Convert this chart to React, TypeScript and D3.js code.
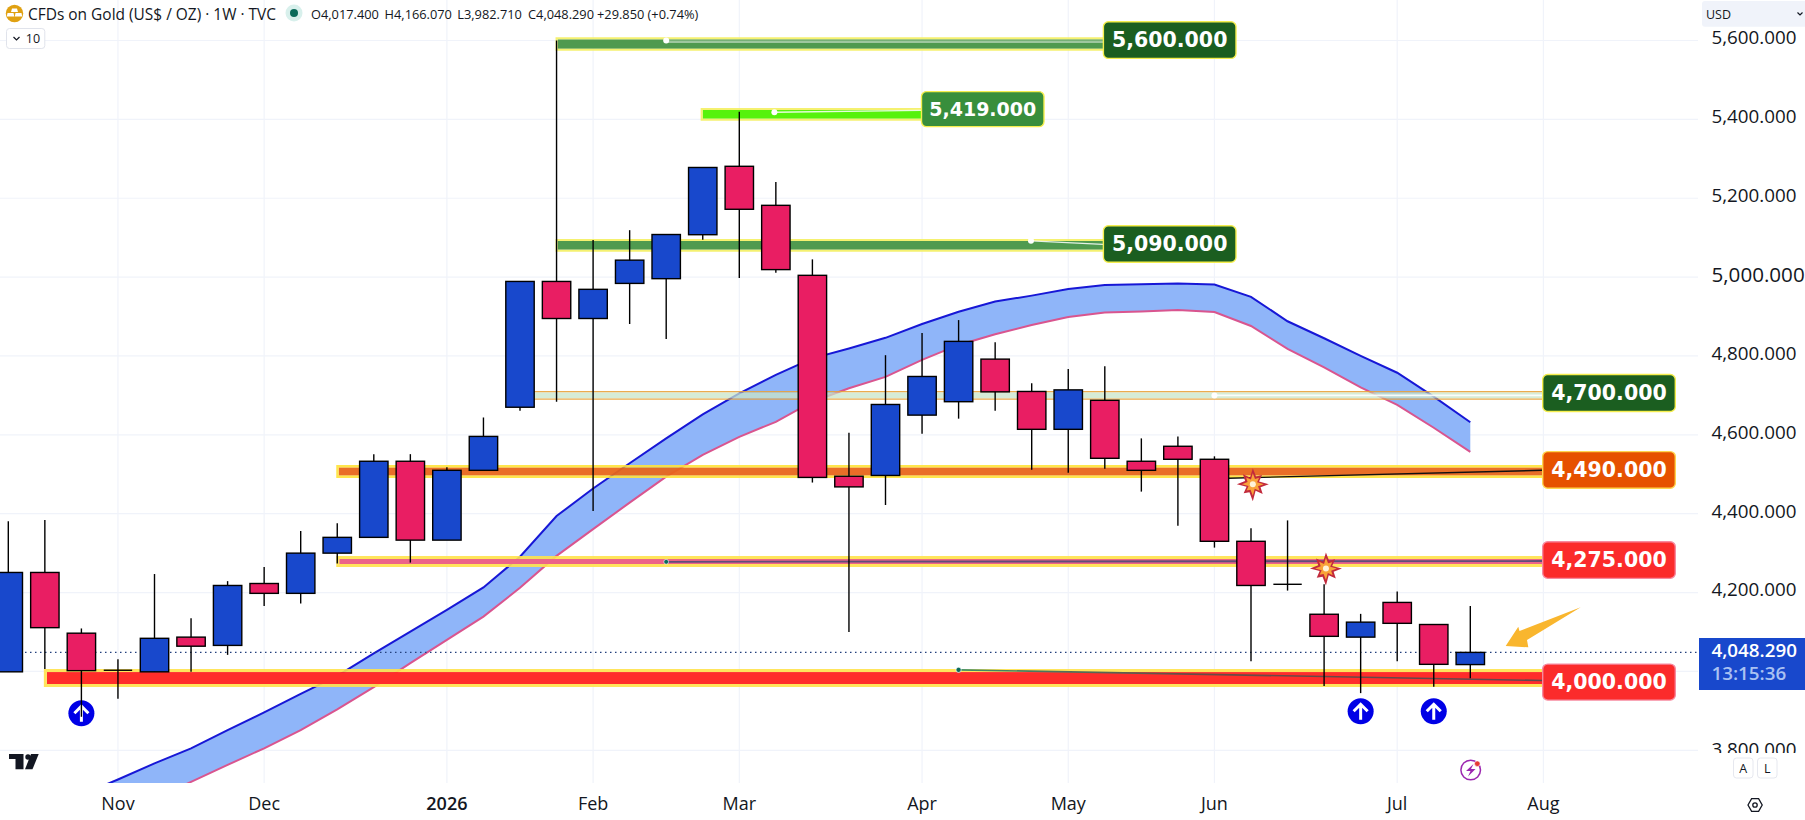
import React from "react";
import * as d3 from "d3";

const W = 1805, H = 820, PANE_R = 1698, PANE_B = 783;

// Weekly candles, index 0 = week of 13 Oct 2025
const opens = [3999,4251,4097,4003,3999,4087,4066,4223,4198,4300,4340,4533,4333,4510,4670,4989,4895,4984,4996,5107.5,5281,5182,5004.5,4495,4497,4650,4684,4792,4710,4614,4687.5,4533,4571,4538,4330,4221,4145,4087,4175,4119,4017.4];
const highs = [4381,4384,4109,4031,4247,4135,4229,4265,4356,4376,4551,4551,4518,4644,4989,5600,5094,5119,5108,5278,5419,5241,5045,4605,4802,4858,4891,4835,4731,4767,4774,4591,4596,4545.5,4363,4383,4221,4146,4203,4119,4166.07];
const lows = [3999,4006,3885,3931,3999,3999,4042,4166,4172,4274,4340,4276,4333,4510,4661,4684,4407,4881,4843,5095,4998,5011,4479,4100,4422,4603,4641,4661,4511.5,4504,4514,4456,4369.5,4314,4026,4205,3963,3945,4026,3961,3982.71];
const closes = [4251,4111,4002,4003,4084,4064,4218,4198,4300,4340,4533,4333,4510,4596,4989,4895,4969,5043,5108,5278,5172,5019,4492,4468,4677,4748,4837,4709,4614,4714,4540.5,4510,4538,4330,4218,4221,4089,4125,4122,4018,4048.29];

// Ribbon, first defined index given by the offset
const upperStart = 2;
const upperBand = [3687,3726,3767,3805,3851,3896,3943,3989,4046,4101,4156,4213,4291,4394,4464,4528,4591,4652,4705,4752,4794,4819,4846,4881,4912,4938,4953,4970,4980,4982,4984,4981,4950,4888,4845,4800,4757.5,4697,4632];
const lowerBand = [null,3636,3676,3720,3763,3805,3851,3904,3960,4021,4080,4139,4212,4293,4361,4428,4494,4549,4595,4633,4684,4718,4747,4790,4828,4855,4878.5,4899,4910,4913,4916.5,4911.5,4876,4818,4771,4720.5,4676,4618,4557];

const yTicks = [5600,5400,5200,5000,4800,4600,4400,4200,3800];
const yGrid = [5600,5400,5200,5000,4800,4600,4400,4200,4000,3800];
const monthLabels = ["Nov","Dec","2026","Feb","Mar","Apr","May","Jun","Jul","Aug"];
const monthIndex = [3,7,12,16,20,25,29,33,38,42];

// Horizontal level zones
const levelNames = ["5,600.000","5,419.000","5,090.000","4,700.000","4,490.000","4,275.000","4,000.000"];
const levelTop = [5608,5429,5096.6,4711,4523.5,4292.7,4006];
const levelBottom = [5574,5396.6,5064.4,4689,4490.5,4264.8,3960.5];
const levelStartIdx = [15,18.97,15,14,9,9,1];
const levelEnd = [1103.4,921.5,1103.4,1542.7,1542.7,1542.7,1542.7];
const levelFill = ["#4f9a4f","#56f20c","#4f9a4f","#c8e6c9","#e8651a","#ec6488","#ff2d2a"];
const levelEdge = ["#f4f060","#f4f060","#f4f060","#e9a23b","#ffe338","#ffe24a","#ffe24a"];
const levelEdgeWidth = [2,2,2,1.3,2.4,3,3];
const levelFillOpacity = [1,1,1,0.75,0.94,1,1];
const labelFill = ["#1b5e20","#388e3c","#1b5e20","#1b5e20","#e65100","#fb2b2b","#fb2b2b"];
const labelEdge = ["#f5ee4e","#f5ee4e","#f5ee4e","#f5ee4e","#ffd54f","#f78aa0","#f78aa0"];
const labelX = [1103.4,921.5,1103.4,1542.7,1542.7,1542.7,1542.7];
const labelW = [132.6,122.5,132.6,132.6,132.6,132.6,132.6];
const labelCenter = [5601,5426,5084,4706,4511,4282.5,3973];
const labelH = [36.6,35,36.6,37,36.6,36.6,36];
const labelFont = [20.5,19,20.5,20.5,20.5,20.5,20.5];

const arrowUpIdx = [2,37,39];
const arrowUpPrice = [3894,3899,3899];
const burstIdx = [34.05,36.05];
const burstPrice = [4475,4261];
const burstOuter = [16,13,16,14,17,13,16,14];

const ohlcTexts = ["O4,017.400","H4,166.070","L3,982.710","C4,048.290","+29.850 (+0.74%)"];
const ohlcX = [311,384.6,457.3,528,597];

const SANS = "'Open Sans', sans-serif";
const TV = "'DejaVu Sans', sans-serif";
const RED = "#e91e63", BLUE = "#1848cc";

const x = d3.scaleLinear().domain([0, 40]).range([8.3, 1470.3]);
const y = d3.scaleLinear().domain([3800, 5600]).range([750.3, 40.5]);

const burstPath = (scale: number) => {
  const pts: [number, number][] = [];
  burstOuter.forEach((r, i) => {
    const a = (i / burstOuter.length) * Math.PI * 2;
    pts.push([a, r * scale]);
    pts.push([a + Math.PI / burstOuter.length, r * scale * 0.52]);
  });
  return d3.lineRadial().curve(d3.curveLinearClosed)(pts) || "";
};

export default function App() {
  const upperPts = upperBand.map((v, i) => [i + upperStart, v] as [number, number]);
  const lowerPts = lowerBand.map((v, i) => [i + upperStart, v] as [number, number | null]).filter(d => d[1] !== null) as [number, number][];
  const lineGen = d3.line<[number, number]>().x(d => x(d[0])).y(d => y(d[1]));
  const ribbonPoly = [
    ...upperPts.map(d => `${x(d[0])},${y(d[1])}`),
    ...lowerPts.slice().reverse().map(d => `${x(d[0])},${y(d[1])}`),
  ].join(" ");
  const bw = 28.4;

  return (
    <svg width={W} height={H} viewBox={`0 0 ${W} ${H}`} style={{ position: "fixed", left: 0, top: 0, display: "block", background: "#fff" }}>
      <defs>
        <clipPath id="pane"><rect x={0} y={0} width={PANE_R} height={PANE_B} /></clipPath>
        <clipPath id="axisClip"><rect x={PANE_R} y={27} width={W - PANE_R} height={726} /></clipPath>
        <linearGradient id="lineLow" x1="0" x2="1" y1="0" y2="0">
          <stop offset="0" stopColor="#3c8f6a" /><stop offset="0.4" stopColor="#6a4a45" /><stop offset="1" stopColor="#5e4a4e" />
        </linearGradient>
      </defs>
      <rect width={W} height={H} fill="#fff" />

      {/* grid */}
      {yGrid.map(v => <line key={v} x1={0} x2={PANE_R} y1={y(v)} y2={y(v)} stroke="#f0f3fa" strokeWidth={1.2} />)}
      {monthIndex.map(i => <line key={i} x1={x(i)} x2={x(i)} y1={0} y2={PANE_B} stroke="#f0f3fa" strokeWidth={1.2} />)}

      <g clipPath="url(#pane)">
        {/* ribbon */}
        <polygon points={ribbonPoly} fill="#8fb5f9" />
        <path d={lineGen(lowerPts) || ""} fill="none" stroke="#d9558f" strokeWidth={2} />
        <path d={lineGen(upperPts) || ""} fill="none" stroke="#1717d6" strokeWidth={2} />

        {/* level zones */}
        {levelNames.map((n, i) => {
          const sw = levelEdgeWidth[i];
          const x0 = x(levelStartIdx[i]);
          const t = y(levelTop[i]), b = y(levelBottom[i]);
          return (
            <g key={n}>
              <rect x={x0 - 1 + sw} y={t + sw} width={levelEnd[i] - x0 + 1 - sw} height={b - t - 2 * sw} fill={levelFill[i]} fillOpacity={levelFillOpacity[i]} />
              <path d={`M${levelEnd[i]} ${t + sw / 2}H${x0 - 1 + sw / 2}V${b - sw / 2}H${levelEnd[i]}`} fill="none" stroke={levelEdge[i]} strokeWidth={sw} strokeOpacity={0.9} />
            </g>
          );
        })}

        {/* last price */}
        <line x1={0} x2={PANE_R} y1={y(closes[40])} y2={y(closes[40])} stroke="#23407e" strokeWidth={1.2} strokeDasharray="1.5 3.5" />

        {/* trend lines on zones */}
        <line x1={x(18)} x2={1103} y1={y(5597)} y2={y(5597)} stroke="#fff" strokeOpacity={0.45} strokeWidth={2.4} />
        <circle cx={x(18)} cy={y(5600)} r={3} fill="#fff" />
        <line x1={x(20.96)} x2={921} y1={y(5418)} y2={y(5423)} stroke="#fff" strokeOpacity={0.85} strokeWidth={1.3} />
        <circle cx={x(20.96)} cy={y(5418)} r={3} fill="#fff" />
        <line x1={x(27.98)} x2={1103} y1={y(5092)} y2={y(5083)} stroke="#fff" strokeOpacity={0.85} strokeWidth={1.3} />
        <circle cx={x(27.98)} cy={y(5092)} r={3} fill="#fff" />
        <line x1={x(33)} x2={1542} y1={y(4700)} y2={y(4700)} stroke="#fff" strokeOpacity={0.9} strokeWidth={1.6} />
        <circle cx={x(33)} cy={y(4700)} r={3} fill="#fff" />
        <line x1={1228.7} x2={1542} y1={y(4490)} y2={y(4510)} stroke="#111" strokeWidth={1.4} />
        <line x1={x(18)} x2={1542} y1={y(4278)} y2={y(4280)} stroke="#5e4f78" strokeWidth={1.8} />
        <circle cx={x(18)} cy={y(4278)} r={2.4} fill="#0a6b5a" stroke="#fff" strokeWidth={0.6} />
        <line x1={x(26)} x2={1542} y1={y(4004)} y2={y(3977)} stroke="url(#lineLow)" strokeWidth={1.6} />
        <circle cx={x(26)} cy={y(4004)} r={2.6} fill="#0a6b5a" stroke="#fff" strokeWidth={0.7} />

        {/* up-arrow markers */}
        {arrowUpIdx.map((i, k) => {
          const cx = x(i), cy = y(arrowUpPrice[k]);
          return (
            <g key={i}>
              <circle cx={cx} cy={cy} r={13} fill="#0000e6" />
              <path d={`M${cx} ${cy + 8.5}V${cy - 7}M${cx - 7} ${cy}L${cx} ${cy - 7}L${cx + 7} ${cy}`} fill="none" stroke="#fff" strokeWidth={3} />
            </g>
          );
        })}

        {/* candles */}
        {opens.map((o, i) => {
          const c = closes[i];
          const up = c >= o;
          const cx = x(i);
          const top = y(Math.max(o, c)), bot = y(Math.min(o, c));
          const doji = o === c;
          return (
            <g key={i}>
              <line x1={cx} x2={cx} y1={y(highs[i])} y2={y(lows[i])} stroke="#000" strokeWidth={1.4} />
              {doji
                ? <line x1={cx - bw / 2} x2={cx + bw / 2} y1={top} y2={top} stroke="#000" strokeWidth={1.4} />
                : <rect x={cx - bw / 2} y={top} width={bw} height={bot - top} fill={up ? BLUE : RED} stroke="#000" strokeWidth={1.4} />}
            </g>
          );
        })}

        {/* bursts */}
        {burstIdx.map((i, k) => (
          <g key={i} transform={`translate(${x(i)},${y(burstPrice[k])})`}>
            <path d={burstPath(1)} fill="#c22a3c" />
            <path d={burstPath(0.68)} fill="#f9a339" />
            <circle r={3} fill="#fff3d8" />
          </g>
        ))}

        {/* gold arrow */}
        <polygon points="1505.7,646 1518.3,626.7 1519.5,631 1580.7,607.3 1527,640 1528.3,647.3" fill="#f9b62e" />

        {/* logo + flash */}
        <g fill="#131722">
          <path d="M9 754H23.5V769.3H15.5V759H9Z" />
          <circle cx={28} cy={757} r={2.7} />
          <path d="M31 754H38.7L32.5 769.3H25Z" />
        </g>
        <circle cx={1470.7} cy={770} r={9.8} fill="none" stroke="#9c27b0" strokeWidth={1.5} />
        <path d="M1473.5 764L1466 771H1470.5L1468 776.5L1475.5 769H1471Z" fill="#9c27b0" />
        <circle cx={1477.3} cy={763.7} r={2.8} fill="#e53935" stroke="#fff" strokeWidth={0.6} />
      </g>

      {/* level labels */}
      {levelNames.map((n, i) => {
        const cy = y(labelCenter[i]);
        return (
          <g key={n}>
            <rect x={labelX[i]} y={cy - labelH[i] / 2} width={labelW[i]} height={labelH[i]} rx={5} fill={labelFill[i]} stroke={labelEdge[i]} strokeWidth={1.4} />
            <text x={labelX[i] + labelW[i] / 2} y={cy} fill="#fff" fontFamily={TV} fontWeight={700} fontSize={labelFont[i]} textAnchor="middle" dominantBaseline="central">{n}</text>
          </g>
        );
      })}

      {/* y axis */}
      <g clipPath="url(#axisClip)">
        {yTicks.map(v => (
          <text key={v} x={1711.5} y={y(v) - (v === 5000 ? 2.7 : v === 3800 ? 1.3 : 3.2)} fill="#131722" fontFamily={SANS} fontSize={v === 5000 ? 20.6 : 18.8} dominantBaseline="central">{d3.format(",.3f")(v)}</text>
        ))}
      </g>

      {/* price tag */}
      <rect x={1699} y={638} width={106} height={52} fill={BLUE} />
      <text x={1711.5} y={650} fill="#fff" fontFamily={SANS} fontWeight={600} fontSize={18.8} dominantBaseline="central">{d3.format(",.3f")(closes[40])}</text>
      <text x={1711.5} y={673} fill="#a9c1f2" fontFamily={SANS} fontWeight={600} fontSize={18.8} dominantBaseline="central">13:15:36</text>

      {/* USD */}
      <rect x={1702} y={1} width={110} height={25.7} rx={3} fill="#f0f3fa" />
      <text x={1706} y={14} fill="#131722" fontFamily={SANS} fontSize={12.5} dominantBaseline="central">USD</text>
      <path d="M1797.5 12.5L1800 15L1802.5 12.5" fill="none" stroke="#131722" strokeWidth={1.2} />

      {/* x axis */}
      {monthLabels.map((m, k) => (
        <text key={m} x={x(monthIndex[k])} y={803} fill="#131722" fontFamily={SANS} fontWeight={m === "2026" ? 600 : 400} fontSize={18} textAnchor="middle" dominantBaseline="central">{m}</text>
      ))}

      {/* A / L + settings */}
      {["A", "L"].map((t, i) => (
        <g key={t}>
          <rect x={1733.5 + i * 24} y={758} width={19.5} height={20} rx={3} fill="#fff" stroke="#e6e8ef" />
          <text x={1743.2 + i * 24} y={768} fill="#131722" fontFamily={SANS} fontSize={12.5} textAnchor="middle" dominantBaseline="central">{t}</text>
        </g>
      ))}
      <polygon points="1748,805 1751.6,798.7 1758.6,798.7 1762.2,805 1758.6,811.3 1751.6,811.3" fill="none" stroke="#131722" strokeWidth={1.3} />
      <circle cx={1755} cy={805} r={2.2} fill="none" stroke="#131722" strokeWidth={1.3} />

      {/* header */}
      <circle cx={14.5} cy={13.5} r={8.7} fill="#e0a112" />
      <path d="M12 8.5H17L18 12H11ZM7.5 13H13.5L14.3 16.5H6.8ZM15.5 13H21.5L22.2 16.5H14.8Z" fill="#fff" />
      <text x={28} y={13.5} fill="#131722" fontFamily={SANS} fontSize={16} dominantBaseline="central" textLength={248} lengthAdjust="spacingAndGlyphs">CFDs on Gold (US$ / OZ) · 1W · TVC</text>
      <circle cx={294} cy={13} r={8.5} fill="#d8f0ec" />
      <circle cx={294} cy={13} r={4} fill="#0a6b5a" />
      {ohlcTexts.map((t, i) => (
        <text key={t} x={ohlcX[i]} y={13.5} fill="#131722" fontFamily={SANS} fontSize={12.8} dominantBaseline="central">{t}</text>
      ))}

      {/* collapse */}
      <rect x={6.5} y={28.5} width={38.3} height={20} rx={3} fill="#fff" stroke="#e0e3eb" />
      <path d="M13.5 37L16.5 40L19.5 37" fill="none" stroke="#131722" strokeWidth={1.2} />
      <text x={33} y={38.5} fill="#131722" fontFamily={SANS} fontSize={12.5} textAnchor="middle" dominantBaseline="central">10</text>
    </svg>
  );
}
